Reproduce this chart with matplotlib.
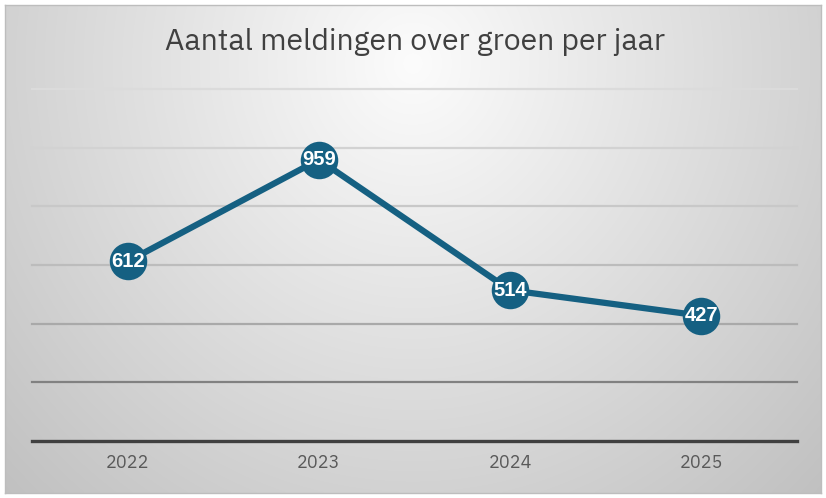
import numpy as np
import matplotlib
matplotlib.use("Agg")
import matplotlib.pyplot as plt

years = ["2022", "2023", "2024", "2025"]
meldingen = [612, 959, 514, 427]
grid_values = [200, 400, 600, 800, 1000, 1200]
title_text = "Aantal meldingen over groen per jaar"

main_font = ["IBM Plex Sans", "Lato", "DejaVu Sans"]
label_font = ["Liberation Sans", "DejaVu Sans"]

W, H = 826, 498
fig = plt.figure(figsize=(W / 100, H / 100), dpi=100)
fig.patch.set_facecolor("white")

# background panel with radial gradient
x0, y0, x1, y1 = 5, 5, 821, 493
bg = fig.add_axes([x0 / W, 1 - y1 / H, (x1 - x0) / W, (y1 - y0) / H])
ny, nx = 200, 340
yy, xx = np.mgrid[0:1:ny * 1j, 0:1:nx * 1j]
d = np.sqrt(((xx - 0.5) / 0.5) ** 2 + ((yy - 0.12) / 0.88) ** 2)
val = np.clip(252 - 42 * d, 190, 255) / 255.0
bg.imshow(np.dstack([val, val, val]), extent=[0, 1, 0, 1], origin="upper", aspect="auto",
          interpolation="bilinear")
bg.set_xlim(0, 1)
bg.set_ylim(0, 1)
bg.set_xticks([])
bg.set_yticks([])
for s in bg.spines.values():
    s.set_color("#bdbdbd")
    s.set_linewidth(1.0)

# plotting axes
left, right = 32, 797
top, bottom = 89, 441
ax = fig.add_axes([left / W, 1 - bottom / H, (right - left) / W, (bottom - top) / H])
ax.patch.set_alpha(0)
ax.set_xlim(-0.5, len(years) - 0.5)
ax.set_ylim(0, 1200)

grid_colors = ["#818181", "#a9a9a9", "#bcbcbc", "#c8c8c8", "#d2d2d2", "#dbdbdb"]
for gv, gc in zip(grid_values, grid_colors):
    ax.axhline(gv, color=gc, lw=1.6, zorder=1, clip_on=False)
ax.axhline(0, color="#404040", lw=2.4, zorder=2, clip_on=False)

xs = np.arange(len(years))
ax.plot(xs, meldingen, color="#156082", lw=4.5, solid_capstyle="round", zorder=3,
        marker="o", markersize=27, markerfacecolor="#156082", markeredgewidth=0)
for x, v in zip(xs, meldingen):
    ax.text(x, v, str(v), ha="center", va="center", color="white", fontsize=14.5,
            fontweight="bold", family=label_font, zorder=4)

ax.set_xticks(xs)
ax.set_xticklabels(years, fontsize=13, color="#595959", family=main_font)
ax.tick_params(axis="x", length=0, pad=9)
ax.set_yticks([])
for s in ax.spines.values():
    s.set_visible(False)

fig.text(415 / W, 1 - 42 / H, title_text, ha="center", va="center", fontsize=21.8,
         color="#404040", family=main_font)

fig.savefig("out.png", dpi=100)
